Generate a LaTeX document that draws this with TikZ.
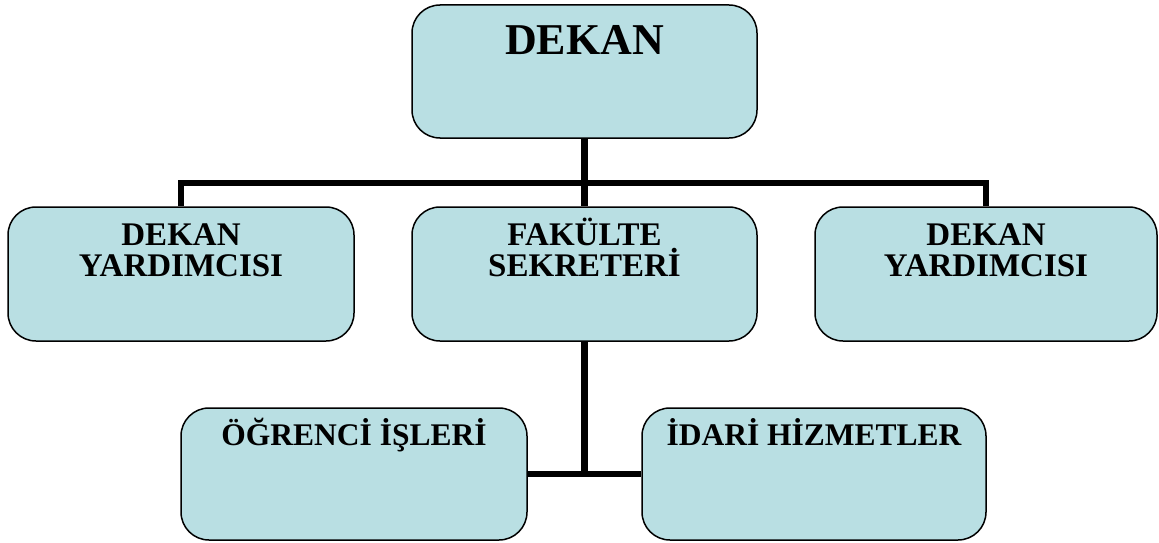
\documentclass[tikz,border=0pt]{standalone}
\usepackage{fontspec}
\setmainfont{Liberation Serif}
\usetikzlibrary{backgrounds}
\definecolor{boxfill}{HTML}{B9DFE3}
\tikzset{
  orgbox/.style={draw=black, line width=1.5pt, fill=boxfill, rounded corners=28pt, inner sep=0pt},
  lbl/.style={font=\bfseries\fontsize{33}{31}\selectfont, align=center, inner sep=0pt, anchor=base},
  lowlbl/.style={lbl, font=\bfseries\fontsize{31.5}{31}\selectfont},
  conn/.style={draw=black, line width=6.5pt}
}
\begin{document}
\begin{tikzpicture}[x=1pt,y=-1pt]
\useasboundingbox (0,0) rectangle (1159,543);
% boxes
\node[orgbox, minimum width=345, minimum height=133] (dekan) at (584.5,71.5) {};
\node[orgbox, minimum width=346, minimum height=134] (ly) at (181,274) {};
\node[orgbox, minimum width=345, minimum height=134] (mid) at (584.5,274) {};
\node[orgbox, minimum width=342, minimum height=134] (ry) at (986,274) {};
\node[orgbox, minimum width=346, minimum height=132] (ol) at (354,474) {};
\node[orgbox, minimum width=344, minimum height=132] (ia) at (814,474) {};
% labels
\node[lbl, font=\bfseries\fontsize{44}{44}\selectfont] (tdekan) at (584.5,55) {DEKAN};
\node[lbl] (tly) at (181,276) {DEKAN\\YARDIMCISI};
\node[lbl] (tmid) at (584.5,276) {FAKÜLTE\\SEKRETERİ};
\node[lbl] (try) at (986,276) {DEKAN\\YARDIMCISI};
\node[lowlbl] (tol) at (354,445) {ÖĞRENCİ İŞLERİ};
\node[lowlbl] (tia) at (814,445) {İDARİ HİZMETLER};
% connectors
\coordinate (bus) at (584.5,183);
\begin{pgfonlayer}{background}
\draw[conn] (dekan.south) -- (mid.north);
\draw[conn] (ly.north) |- (bus) -| (ry.north);
\draw[conn] (mid.south) -- (mid.south |- ol.east);
\draw[conn] (ol.east) -- (ia.west);
\end{pgfonlayer}
\end{tikzpicture}
\end{document}
